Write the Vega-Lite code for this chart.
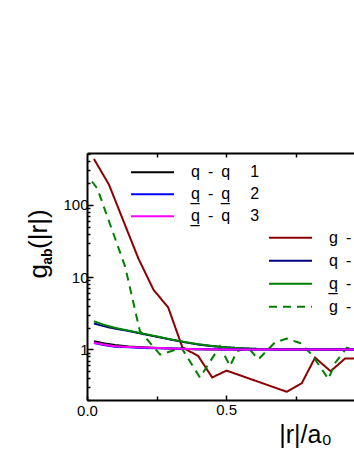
{
  "$schema": "https://vega.github.io/schema/vega-lite/v6.json",
  "autosize": {"type": "none"},
  "width": 267,
  "height": 247,
  "padding": {"left": 87, "top": 153, "right": 0, "bottom": 58},
  "background": "white",
  "config": {
    "view": {"stroke": null},
    "font": "Liberation Sans",
    "axis": {
      "grid": false, "domainColor": "black", "domainWidth": 2, "tickColor": "black", "tickWidth": 1.5,
      "labelFont": "Liberation Sans", "labelFontSize": 15, "labelColor": "black", "labelFlush": false,
      "titleFont": "Liberation Sans", "titleColor": "black", "titleFontWeight": "normal"
    },
    "legend": {
      "orient": "none", "symbolType": "stroke", "symbolSize": 1849, "symbolStrokeWidth": 2,
      "labelFont": "Liberation Sans", "labelFontSize": 16, "labelColor": "black", "labelOffset": 16,
      "rowPadding": 0, "padding": 0, "labelLimit": 300
    }
  },
  "datasets": {
    "grp1": [
      {"s": "q\u2002-\u2002q\u2003\u20051", "r": 0.025, "g": 1.30},
      {"s": "q\u2002-\u2002q\u2003\u20051", "r": 0.06, "g": 1.22},
      {"s": "q\u2002-\u2002q\u2003\u20051", "r": 0.1, "g": 1.15},
      {"s": "q\u2002-\u2002q\u2003\u20051", "r": 0.15, "g": 1.10},
      {"s": "q\u2002-\u2002q\u2003\u20051", "r": 0.2, "g": 1.07},
      {"s": "q\u2002-\u2002q\u2003\u20051", "r": 0.3, "g": 1.03},
      {"s": "q\u2002-\u2002q\u2003\u20051", "r": 0.4, "g": 1.01},
      {"s": "q\u2002-\u2002q\u2003\u20051", "r": 0.5, "g": 1.0},
      {"s": "q\u2002-\u2002q\u2003\u20051", "r": 0.98, "g": 1.0},
      {"s": "q\u0332\u2002-\u2002q\u0332\u2003\u20052", "r": 0.025, "g": 1.23},
      {"s": "q\u0332\u2002-\u2002q\u0332\u2003\u20052", "r": 0.06, "g": 1.15},
      {"s": "q\u0332\u2002-\u2002q\u0332\u2003\u20052", "r": 0.1, "g": 1.09},
      {"s": "q\u0332\u2002-\u2002q\u0332\u2003\u20052", "r": 0.15, "g": 1.07},
      {"s": "q\u0332\u2002-\u2002q\u0332\u2003\u20052", "r": 0.2, "g": 1.05},
      {"s": "q\u0332\u2002-\u2002q\u0332\u2003\u20052", "r": 0.3, "g": 1.03},
      {"s": "q\u0332\u2002-\u2002q\u0332\u2003\u20052", "r": 0.4, "g": 1.01},
      {"s": "q\u0332\u2002-\u2002q\u0332\u2003\u20052", "r": 0.5, "g": 1.0},
      {"s": "q\u0332\u2002-\u2002q\u0332\u2003\u20052", "r": 0.98, "g": 1.0},
      {"s": "q\u0332\u2002-\u2002q\u2003\u20053", "r": 0.025, "g": 1.24},
      {"s": "q\u0332\u2002-\u2002q\u2003\u20053", "r": 0.06, "g": 1.17},
      {"s": "q\u0332\u2002-\u2002q\u2003\u20053", "r": 0.1, "g": 1.11},
      {"s": "q\u0332\u2002-\u2002q\u2003\u20053", "r": 0.15, "g": 1.08},
      {"s": "q\u0332\u2002-\u2002q\u2003\u20053", "r": 0.2, "g": 1.06},
      {"s": "q\u0332\u2002-\u2002q\u2003\u20053", "r": 0.3, "g": 1.03},
      {"s": "q\u0332\u2002-\u2002q\u2003\u20053", "r": 0.4, "g": 1.01},
      {"s": "q\u0332\u2002-\u2002q\u2003\u20053", "r": 0.5, "g": 1.0},
      {"s": "q\u0332\u2002-\u2002q\u2003\u20053", "r": 0.98, "g": 1.0}
    ],
    "grp2": [
      {"s": "g\u2002-\u2002g", "r": 0.025, "g": 430},
      {"s": "g\u2002-\u2002g", "r": 0.079, "g": 190},
      {"s": "g\u2002-\u2002g", "r": 0.13, "g": 61},
      {"s": "g\u2002-\u2002g", "r": 0.185, "g": 18},
      {"s": "g\u2002-\u2002g", "r": 0.239, "g": 6.7},
      {"s": "g\u2002-\u2002g", "r": 0.292, "g": 3.8},
      {"s": "g\u2002-\u2002g", "r": 0.343, "g": 1.07},
      {"s": "g\u2002-\u2002g", "r": 0.4, "g": 0.81},
      {"s": "g\u2002-\u2002g", "r": 0.45, "g": 0.41},
      {"s": "g\u2002-\u2002g", "r": 0.502, "g": 0.51},
      {"s": "g\u2002-\u2002g", "r": 0.718, "g": 0.26},
      {"s": "g\u2002-\u2002g", "r": 0.772, "g": 0.34},
      {"s": "g\u2002-\u2002g", "r": 0.82, "g": 0.77},
      {"s": "g\u2002-\u2002g", "r": 0.876, "g": 0.5},
      {"s": "g\u2002-\u2002g", "r": 0.928, "g": 0.75},
      {"s": "g\u2002-\u2002g", "r": 0.98, "g": 0.75},
      {"s": "q\u2002-\u2002g", "r": 0.025, "g": 2.28},
      {"s": "q\u2002-\u2002g", "r": 0.06, "g": 2.1},
      {"s": "q\u2002-\u2002g", "r": 0.1, "g": 1.94},
      {"s": "q\u2002-\u2002g", "r": 0.15, "g": 1.8},
      {"s": "q\u2002-\u2002g", "r": 0.2, "g": 1.64},
      {"s": "q\u2002-\u2002g", "r": 0.25, "g": 1.5},
      {"s": "q\u2002-\u2002g", "r": 0.3, "g": 1.37},
      {"s": "q\u2002-\u2002g", "r": 0.35, "g": 1.26},
      {"s": "q\u2002-\u2002g", "r": 0.4, "g": 1.17},
      {"s": "q\u2002-\u2002g", "r": 0.45, "g": 1.11},
      {"s": "q\u2002-\u2002g", "r": 0.5, "g": 1.07},
      {"s": "q\u2002-\u2002g", "r": 0.55, "g": 1.04},
      {"s": "q\u2002-\u2002g", "r": 0.6, "g": 1.02},
      {"s": "q\u2002-\u2002g", "r": 0.7, "g": 1.0},
      {"s": "q\u2002-\u2002g", "r": 0.98, "g": 1.0},
      {"s": "q\u0332\u2002-\u2002g", "r": 0.025, "g": 2.45},
      {"s": "q\u0332\u2002-\u2002g", "r": 0.06, "g": 2.2},
      {"s": "q\u0332\u2002-\u2002g", "r": 0.1, "g": 1.99},
      {"s": "q\u0332\u2002-\u2002g", "r": 0.15, "g": 1.82},
      {"s": "q\u0332\u2002-\u2002g", "r": 0.2, "g": 1.66},
      {"s": "q\u0332\u2002-\u2002g", "r": 0.25, "g": 1.52},
      {"s": "q\u0332\u2002-\u2002g", "r": 0.3, "g": 1.38},
      {"s": "q\u0332\u2002-\u2002g", "r": 0.35, "g": 1.27},
      {"s": "q\u0332\u2002-\u2002g", "r": 0.4, "g": 1.18},
      {"s": "q\u0332\u2002-\u2002g", "r": 0.45, "g": 1.12},
      {"s": "q\u0332\u2002-\u2002g", "r": 0.5, "g": 1.07},
      {"s": "q\u0332\u2002-\u2002g", "r": 0.55, "g": 1.04},
      {"s": "q\u0332\u2002-\u2002g", "r": 0.6, "g": 1.02},
      {"s": "q\u0332\u2002-\u2002g", "r": 0.7, "g": 1.0},
      {"s": "q\u0332\u2002-\u2002g", "r": 0.98, "g": 1.0},
      {"s": "g\u2002-\u2002g\u0332", "r": 0.018, "g": 210},
      {"s": "g\u2002-\u2002g\u0332", "r": 0.037, "g": 168},
      {"s": "g\u2002-\u2002g\u0332", "r": 0.137, "g": 14},
      {"s": "g\u2002-\u2002g\u0332", "r": 0.19, "g": 1.8},
      {"s": "g\u2002-\u2002g\u0332", "r": 0.263, "g": 0.85},
      {"s": "g\u2002-\u2002g\u0332", "r": 0.34, "g": 1.05},
      {"s": "g\u2002-\u2002g\u0332", "r": 0.406, "g": 0.41},
      {"s": "g\u2002-\u2002g\u0332", "r": 0.478, "g": 1.11},
      {"s": "g\u2002-\u2002g\u0332", "r": 0.514, "g": 0.59},
      {"s": "g\u2002-\u2002g\u0332", "r": 0.54, "g": 0.95},
      {"s": "g\u2002-\u2002g\u0332", "r": 0.58, "g": 1.05},
      {"s": "g\u2002-\u2002g\u0332", "r": 0.616, "g": 0.73},
      {"s": "g\u2002-\u2002g\u0332", "r": 0.676, "g": 1.25},
      {"s": "g\u2002-\u2002g\u0332", "r": 0.718, "g": 1.41},
      {"s": "g\u2002-\u2002g\u0332", "r": 0.766, "g": 1.23},
      {"s": "g\u2002-\u2002g\u0332", "r": 0.808, "g": 0.85},
      {"s": "g\u2002-\u2002g\u0332", "r": 0.868, "g": 0.39},
      {"s": "g\u2002-\u2002g\u0332", "r": 0.892, "g": 0.65},
      {"s": "g\u2002-\u2002g\u0332", "r": 0.934, "g": 1.05},
      {"s": "g\u2002-\u2002g\u0332", "r": 0.98, "g": 1.0}
    ]
  },
  "layer": [
    {
      "data": {"name": "grp2"},
      "mark": {"type": "line", "strokeWidth": 2, "clip": true},
      "encoding": {
        "x": {"field": "r", "type": "quantitative",
          "scale": {"domain": [0, 0.96], "nice": false, "zero": false},
          "axis": {"orient": "top", "values": [0.25, 0.5, 0.75], "labels": false, "tickSize": -4,
            "title": "ab", "titleX": -35.3, "titleY": 103, "titleAngle": -90, "titleAlign": "center",
            "titleBaseline": "alphabetic", "titleFontSize": 14, "titleFontWeight": "bold"}},
        "y": {"field": "g", "type": "quantitative",
          "scale": {"type": "log", "domain": [0.2, 520], "nice": false},
          "axis": {"orient": "left", "values": [0.2,0.3,0.4,0.5,0.6,0.7,0.8,0.9,2,3,4,5,6,7,8,9,20,30,40,50,60,70,80,90,200,300,400,500],
            "labels": false, "tickSize": -3, "domain": false,
            "title": "(|r|)", "titleX": -41, "titleY": 75.7, "titleAngle": -90, "titleAlign": "center",
            "titleBaseline": "alphabetic", "titleFontSize": 26}},
        "color": {"field": "s", "type": "nominal",
          "scale": {"domain": ["g\u2002-\u2002g", "q\u2002-\u2002g", "q\u0332\u2002-\u2002g", "g\u2002-\u2002g\u0332"],
            "range": ["#8B0000", "#000080", "#008000", "#008000"]},
          "legend": {"title": null, "legendX": 181, "legendY": 73.5, "clipHeight": 22.5}},
        "strokeDash": {"field": "s", "type": "nominal",
          "scale": {"domain": ["g\u2002-\u2002g", "q\u2002-\u2002g", "q\u0332\u2002-\u2002g", "g\u2002-\u2002g\u0332"],
            "range": [[1, 0], [1, 0], [1, 0], [8, 6]]},
          "legend": {"title": null, "legendX": 181, "legendY": 73.5, "clipHeight": 22.5}}
      }
    },
    {
      "data": {"name": "grp1"},
      "mark": {"type": "line", "strokeWidth": 2, "clip": true},
      "encoding": {
        "x": {"field": "r", "type": "quantitative",
          "axis": {"orient": "bottom", "values": [0, 0.25, 0.5, 0.75],
            "labelExpr": "datum.value == 0 ? '0.0' : (datum.value == 0.5 ? '0.5' : '')",
            "tickSize": {"condition": {"test": "datum.value == 0.5", "value": -5}, "value": -4},
            "labelPadding": 7,
            "title": "|r|/a\u2080", "titleX": 218, "titleY": 42, "titleAlign": "center",
            "titleBaseline": "alphabetic", "titleFontSize": 25}},
        "y": {"field": "g", "type": "quantitative",
          "axis": {"orient": "left", "values": [1, 10, 100], "format": "d", "tickSize": -6, "labelPadding": 5,
            "title": "g", "titleX": -41, "titleY": 117.7, "titleAngle": -90, "titleAlign": "center",
            "titleBaseline": "alphabetic", "titleFontSize": 26}},
        "color": {"field": "s", "type": "nominal",
          "scale": {"domain": ["q\u2002-\u2002q\u2003\u20051", "q\u0332\u2002-\u2002q\u0332\u2003\u20052", "q\u0332\u2002-\u2002q\u2003\u20053"],
            "range": ["#000000", "#0000FF", "#FF00FF"]},
          "legend": {"title": null, "legendX": 43, "legendY": 8.5, "clipHeight": 21.5}}
      }
    }
  ],
  "resolve": {
    "scale": {"color": "independent", "strokeDash": "independent"},
    "axis": {"x": "independent", "y": "independent"}
  }
}
